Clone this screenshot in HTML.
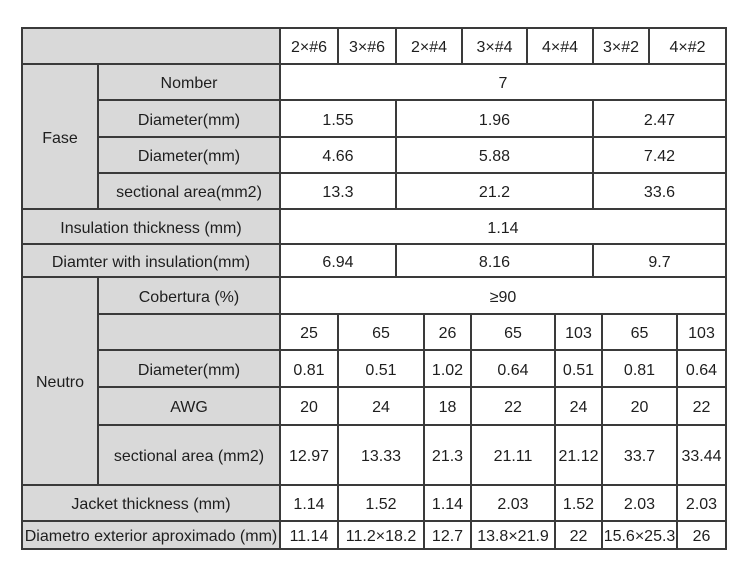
<!DOCTYPE html>
<html><head><meta charset="utf-8"><style>
html,body{margin:0;padding:0;background:#fff;}
body{width:750px;height:584px;position:relative;overflow:hidden;font-family:"Liberation Sans",Arial,sans-serif;font-size:16px;color:#1e1e1e;}
.c{position:absolute;box-sizing:border-box;border:2px solid #3a3a3a;padding-top:4px;display:flex;align-items:center;justify-content:center;white-space:nowrap;background:#fff;}
.g{background:#d9d9d9;}
</style></head><body>
<div id="t"></div>
<script>
var H=[280,338,396,462,527,593,649,726];
var N=[280,338,424,471,555,602,677,726];
var out='';
function cell(x0,y0,x1,y1,txt,g){
 out+='<div class="c'+(g?' g':'')+'" style="left:'+(x0-1)+'px;top:'+(y0-1)+'px;width:'+(x1-x0+2)+'px;height:'+(y1-y0+2)+'px">'+txt+'</div>';
}
cell(22,28,280,64,'',1);
cell(22,64,98,209,'Fase',1);
cell(98,64,280,100,'Nomber',1);
cell(98,100,280,137,'Diameter(mm)',1);
cell(98,137,280,173,'Diameter(mm)',1);
cell(98,173,280,209,'sectional area(mm2)',1);
cell(22,209,280,244,'Insulation thickness (mm)',1);
cell(22,244,280,277,'Diamter with insulation(mm)',1);
cell(22,277,98,485,'Neutro',1);
cell(98,277,280,314,'Cobertura (%)',1);
cell(98,314,280,350,'',1);
cell(98,350,280,387,'Diameter(mm)',1);
cell(98,387,280,425,'AWG',1);
cell(98,425,280,485,'sectional area (mm2)',1);
cell(22,485,280,521,'Jacket thickness (mm)',1);
cell(22,521,280,549,'Diametro exterior aproximado (mm)',1);
var hd=['2×#6','3×#6','2×#4','3×#4','4×#4','3×#2','4×#2'];
for(var i=0;i<7;i++)cell(H[i],28,H[i+1],64,hd[i]);
cell(280,64,726,100,'7');
function three(y0,y1,a,b,c){cell(280,y0,396,y1,a);cell(396,y0,593,y1,b);cell(593,y0,726,y1,c);}
three(100,137,'1.55','1.96','2.47');
three(137,173,'4.66','5.88','7.42');
three(173,209,'13.3','21.2','33.6');
cell(280,209,726,244,'1.14');
three(244,277,'6.94','8.16','9.7');
cell(280,277,726,314,'≥90');
var rows=[
 [314,350,['25','65','26','65','103','65','103']],
 [350,387,['0.81','0.51','1.02','0.64','0.51','0.81','0.64']],
 [387,425,['20','24','18','22','24','20','22']],
 [425,485,['12.97','13.33','21.3','21.11','21.12','33.7','33.44']],
 [485,521,['1.14','1.52','1.14','2.03','1.52','2.03','2.03']],
 [521,549,['11.14','11.2×18.2','12.7','13.8×21.9','22','15.6×25.3','26']]
];
rows.forEach(function(r){for(var i=0;i<7;i++)cell(N[i],r[0],N[i+1],r[1],r[2][i]);});
document.getElementById('t').innerHTML=out;
</script>
</body></html>
